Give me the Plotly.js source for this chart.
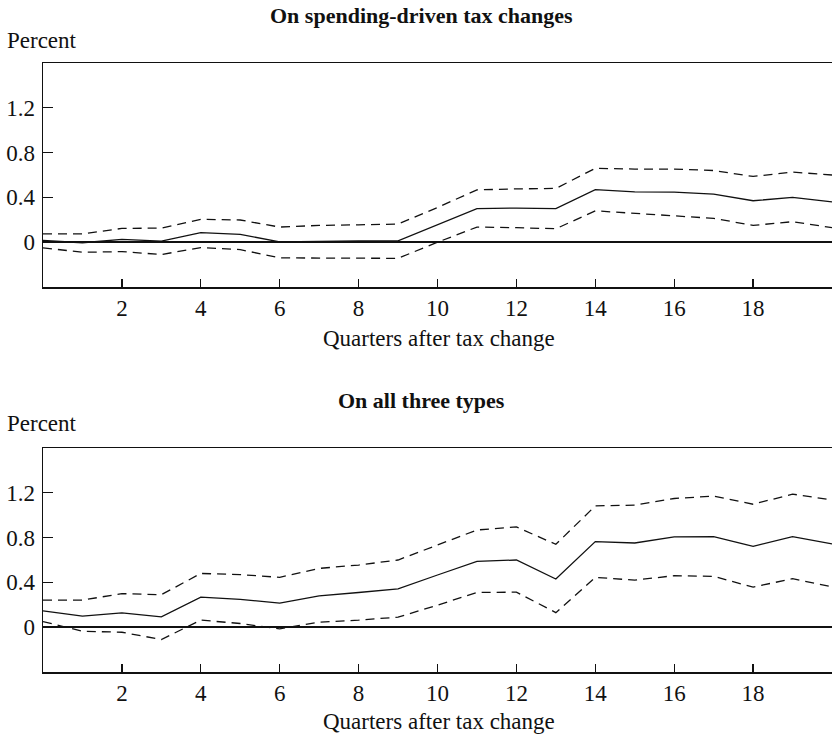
<!DOCTYPE html>
<html>
<head>
<meta charset="utf-8">
<script src="https://cdn.plot.ly/plotly-3.0.1.min.js"></script>
<style>html,body{margin:0;padding:0;background:#fff;}#chart{width:832px;height:736px;}</style>
</head>
<body>
<div id="chart"></div>
<script>
const quarters = [0,1,2,3,4,5,6,7,8,9,10,11,12,13,14,15,16,17,18,19,20];

const spendCentral = [0.015,-0.005,0.025,0.01,0.085,0.07,0.003,0.01,0.012,0.012,0.156,0.30,0.305,0.30,0.47,0.45,0.447,0.43,0.37,0.40,0.36];
const spendUpper   = [0.075,0.075,0.123,0.126,0.204,0.198,0.135,0.15,0.155,0.162,0.31,0.467,0.476,0.48,0.66,0.653,0.653,0.64,0.587,0.626,0.60];
const spendLower   = [-0.05,-0.09,-0.084,-0.11,-0.048,-0.066,-0.14,-0.14,-0.14,-0.144,0.0,0.135,0.13,0.12,0.28,0.258,0.24,0.213,0.15,0.183,0.13];

const allCentral = [0.146,0.098,0.128,0.092,0.268,0.248,0.215,0.28,0.31,0.343,0.466,0.588,0.60,0.43,0.764,0.752,0.806,0.808,0.722,0.808,0.743];
const allUpper   = [0.242,0.242,0.30,0.29,0.48,0.47,0.445,0.525,0.555,0.60,0.734,0.868,0.895,0.74,1.083,1.09,1.149,1.17,1.098,1.188,1.137];
const allLower   = [0.05,-0.036,-0.045,-0.11,0.063,0.033,-0.015,0.045,0.063,0.09,0.197,0.31,0.313,0.13,0.445,0.42,0.46,0.454,0.358,0.433,0.36];

const xTickVals = [2,4,6,8,10,12,14,16,18];
const yTickVals = [0,0.4,0.8,1.2];
const yTickText = ['0','0.4','0.8','1.2'];

const titles = ['On spending-driven tax changes','On all three types'];
const yLabel = 'Percent';
const xLabel = 'Quarters after tax change';

const H = 736, W = 832, L = 43;
const py = p => 1 - p / H;
const FONT = 'Liberation Serif, Times New Roman, serif';
const FS = 23;

function traces(c, u, lo, xa, ya) {
  const base = {x: quarters, mode: 'lines', xaxis: xa, yaxis: ya, hoverinfo: 'skip', showlegend: false};
  return [
    Object.assign({}, base, {y: u, line: {color: '#111', width: 1.3, dash: '9px,6px'}}),
    Object.assign({}, base, {y: lo, line: {color: '#111', width: 1.3, dash: '9px,6px'}}),
    Object.assign({}, base, {y: c, line: {color: '#111', width: 1.3}})
  ];
}

const data = [].concat(
  traces(spendCentral, spendUpper, spendLower, 'x', 'y'),
  traces(allCentral, allUpper, allLower, 'x2', 'y2')
);

function xaxis(anchor) {
  return {
    anchor: anchor, domain: [0, 1], range: [0, 20],
    tickmode: 'array', tickvals: xTickVals,
    ticks: 'inside', ticklen: 8, tickwidth: 1.3, tickcolor: '#111',
    showline: true, linecolor: '#111', linewidth: 1.5, mirror: true,
    showgrid: false, zeroline: false,
    tickfont: {family: FONT, size: FS, color: '#111'},
    ticklabelstandoff: 0
  };
}
function yaxis(anchor, dom) {
  return {
    anchor: anchor, domain: dom, range: [-0.4, 1.6],
    tickmode: 'array', tickvals: yTickVals, ticktext: yTickText,
    ticks: 'inside', ticklen: 10, tickwidth: 1.3, tickcolor: '#111',
    showline: true, linecolor: '#111', linewidth: 1.5, mirror: false,
    showgrid: false, zeroline: true, zerolinecolor: '#111', zerolinewidth: 1.5,
    tickfont: {family: FONT, size: FS, color: '#111'},
    ticklabelstandoff: 2
  };
}

const px = x => (x - L) / (W - L);

const annotations = [
  {text: '<b>' + titles[0] + '</b>', x: px(421), y: py(16), font: {family: FONT, size: 22, color: '#111'}},
  {text: yLabel, x: px(5), y: py(40), xanchor: 'left'},
  {text: xLabel, x: px(439), y: py(338)},
  {text: '<b>' + titles[1] + '</b>', x: px(421), y: py(400), font: {family: FONT, size: 22, color: '#111'}},
  {text: yLabel, x: px(5), y: py(423), xanchor: 'left'},
  {text: xLabel, x: px(439), y: py(721)}
].map(a => Object.assign({xref: 'paper', yref: 'paper', showarrow: false, xanchor: 'center', yanchor: 'middle',
  font: {family: FONT, size: FS, color: '#111'}}, a));

const layout = {
  width: W, height: H,
  margin: {l: L, r: 0, t: 0, b: 0, pad: 0},
  paper_bgcolor: '#fff', plot_bgcolor: '#fff',
  xaxis: xaxis('y'),
  yaxis: yaxis('x', [py(287), py(63)]),
  xaxis2: xaxis('y2'),
  yaxis2: yaxis('x2', [py(672), py(448)]),
  annotations: annotations,
  showlegend: false
};

Plotly.newPlot('chart', data, layout, {displayModeBar: false, staticPlot: true});
</script>
</body>
</html>
